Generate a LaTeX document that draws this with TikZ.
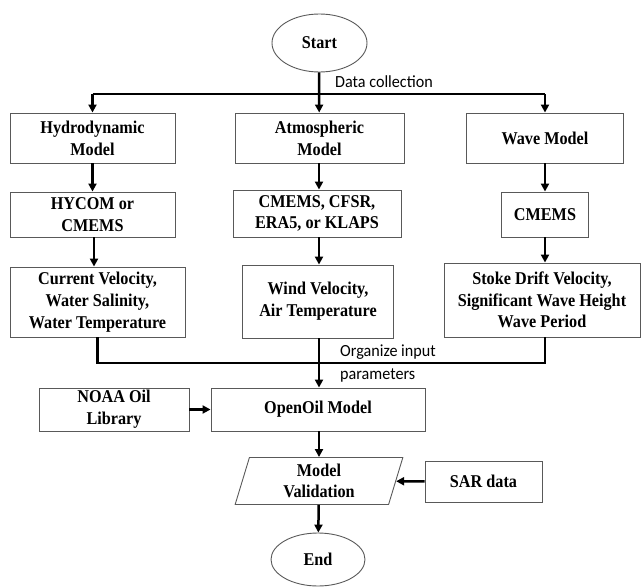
\documentclass[tikz,border=0pt]{standalone}
\usepackage{fontspec}
\setmainfont{Liberation Serif}[FakeStretch=0.9]
\newfontfamily\labelfont{Carlito}[FakeStretch=0.95]
\usetikzlibrary{arrows.meta, shapes.geometric, positioning, calc}

\tikzset{
  procbox/.style={draw=black!65, line width=0.9pt, align=center, inner sep=0pt,
    font=\fontsize{18}{21.7}\selectfont\bfseries},
  terminal/.style={procbox, ellipse},
  flow/.style={line width=2.5pt, -{Triangle[length=8pt,width=8pt]}},
  bus/.style={line width=2.5pt},
  note/.style={font=\labelfont\fontsize{17}{23}\selectfont, anchor=west,
    inner sep=0pt, align=left}
}

\begin{document}
\begin{tikzpicture}[x=1pt, y=-1pt]
  \useasboundingbox (0,0) rectangle (641,587);

  % start and data sources
  \node[terminal, minimum width=95pt, minimum height=58pt] (start) at (319.5,43) {Start};
  \node[procbox, minimum width=165pt, minimum height=50pt] (hydro) at (92.5,138) {Hydrodynamic\\Model};
  \node[procbox, minimum width=169pt, minimum height=50pt] (atmos) at (319.5,138) {Atmospheric\\Model};
  \node[procbox, minimum width=157pt, minimum height=50pt] (wave) at (545,138) {Wave Model};

  \node[procbox, minimum width=165pt, minimum height=45pt] (hycom) at (92.5,214.5) {HYCOM or\\CMEMS};
  \node[procbox, minimum width=168pt, minimum height=47pt] (atmdata) at (317,213.5) {CMEMS, CFSR,\\ERA5, or KLAPS};
  \node[procbox, minimum width=87pt, minimum height=45pt] (cmems) at (545,214.5) {CMEMS};

  \node[procbox, minimum width=175pt, minimum height=70pt] (current) at (97.5,302) {Current Velocity,\\Water Salinity,\\Water Temperature};
  \node[procbox, minimum width=151pt, minimum height=73pt] (wind) at (318,301.5) {Wind Velocity,\\Air Temperature};
  \node[procbox, minimum width=196pt, minimum height=74pt] (stoke) at (542,300) {Stoke Drift Velocity,\\Significant Wave Height\\Wave Period};

  % model run and validation
  \node[procbox, minimum width=214pt, minimum height=43pt] (openoil) at (318,409.5) {OpenOil Model};
  \node[procbox, minimum width=150pt, minimum height=43pt] (noaa) at (114,409.5) {NOAA Oil\\Library};
  \node[procbox, trapezium, trapezium left angle=78, trapezium right angle=102,
    trapezium stretches=true, minimum width=168pt, minimum height=47pt] (valid) at (319,481) {Model\\Validation};
  \node[procbox, minimum width=117pt, minimum height=41pt] (sar) at (483.5,481.5) {SAR data};
  \node[terminal, minimum width=94pt, minimum height=53pt] (finish) at (318,559.5) {End};

  \node[note] (collect) at (335,82) {Data collection};
  \node[note] (organize) at (340,363.5) {Organize input\\parameters};

  % data collection bus
  \coordinate (split) at (319,94);
  \draw[bus] (start) -- (split);
  \draw[bus] (hydro.north |- split) -- (wave.north |- split);
  \draw[flow] (hydro.north |- split) -- (hydro);
  \draw[flow] (split) -- (atmos);
  \draw[flow] (wave.north |- split) -- (wave);

  \draw[flow] (hydro) -- (hycom);
  \draw[flow] (atmos.south -| split) -- (atmdata.north -| split);
  \draw[flow] (wave) -- (cmems);

  \draw[flow] (hycom.south -| 94,0) -- (current.north -| 94,0);
  \draw[flow] (atmdata.south -| split) -- (wind.north -| split);
  \draw[flow] (cmems) -- (cmems |- stoke.north);

  % organize input bus
  \coordinate (merge) at (319,363);
  \draw[bus] (current) |- (merge) -| (cmems |- stoke.south);
  \draw[bus] (wind.south -| merge) -- (merge);
  \draw[flow] (merge) -- (openoil.north -| merge);

  \draw[flow] (noaa) -- (openoil);
  \draw[flow] (openoil.south -| merge) -- (valid.north -| merge);
  \draw[flow] (sar) -- (valid);
  \draw[flow] (valid) -- (finish);
\end{tikzpicture}
\end{document}
